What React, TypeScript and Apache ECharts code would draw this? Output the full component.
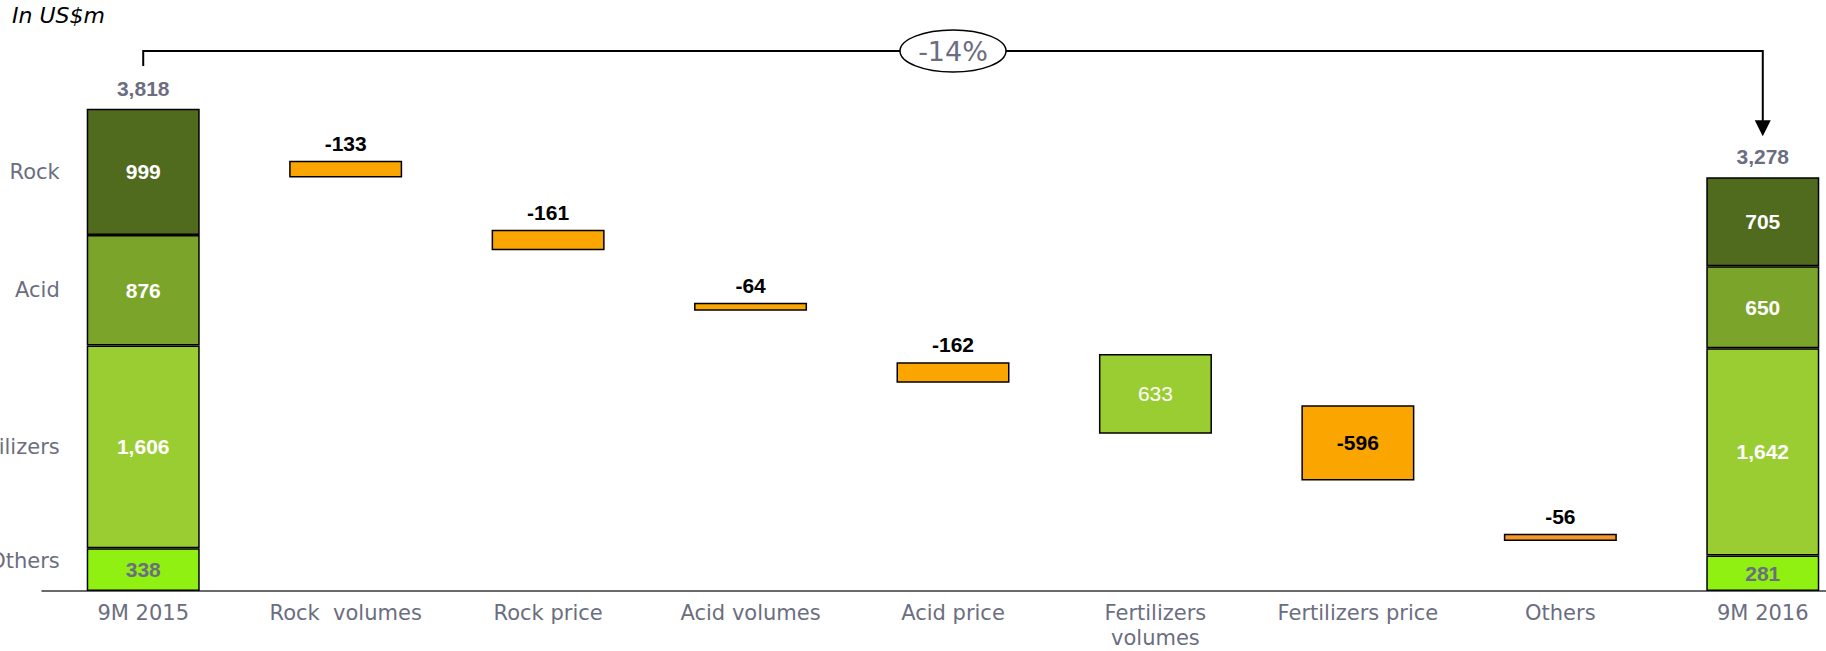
import React, { useEffect, useRef } from "react";
import * as echarts from "echarts";

// Revenue bridge 9M 2015 -> 9M 2016, in US$m
const categories = [
  "9M 2015",
  "Rock  volumes",
  "Rock price",
  "Acid volumes",
  "Acid price",
  "Fertilizers\nvolumes",
  "Fertilizers price",
  "Others",
  "9M 2016",
];

// Segment breakdown of the two period totals (first and last column)
const segmentNames = ["Others", "Fertilizers", "Acid", "Rock"];
const rockValues = [999, "-", "-", "-", "-", "-", "-", "-", 705];
const acidValues = [876, "-", "-", "-", "-", "-", "-", "-", 650];
const fertilizerValues = [1606, "-", "-", "-", "-", "-", "-", "-", 1642];
const otherValues = [338, "-", "-", "-", "-", "-", "-", "-", 281];
const totalValues = [3818, "-", "-", "-", "-", "-", "-", "-", 3278];

// Bridge steps and the level each floating bar starts from
const changeValues = [null, -133, -161, -64, -162, 633, -596, -56, null];
const changeBases = [null, 3275, 2700, 2220, 1650, 1245, 875, 397, null];

const segmentColors: Record<string, string> = {
  Rock: "#506A1E",
  Acid: "#7BA42A",
  Fertilizers: "#9ACD32",
  Others: "#8FF012",
};

const GREY = "#6B6E80";
const NUM_FONT = "Liberation Sans";
const TXT_FONT = "DejaVu Sans";
const BAR_WIDTH = 113;
const NUM_SIZE = 21;

const fmt = (v: number) => v.toLocaleString("en-US");

export default function App() {
  const ref = useRef<HTMLDivElement>(null);

  useEffect(() => {
    document.body.style.margin = "0";
    document.body.style.overflow = "hidden";
    const chart = echarts.init(ref.current!, null, { renderer: "svg" });

    const segmentData: Record<string, any[]> = {
      Rock: rockValues,
      Acid: acidValues,
      Fertilizers: fertilizerValues,
      Others: otherValues,
    };

    const common = {
      type: "bar",
      barWidth: BAR_WIDTH,
      barGap: "-100%",
    };

    // Stacked period totals
    const segmentSeries = segmentNames.map((name) => ({
      ...common,
      name,
      stack: "total",
      data: segmentData[name],
      itemStyle: { color: segmentColors[name], borderColor: "#000", borderWidth: 1.5 },
      label: {
        show: true,
        position: "inside",
        formatter: (p: any) => fmt(p.value),
        color: name === "Others" ? GREY : "#fff",
        fontFamily: NUM_FONT,
        fontWeight: "bold",
        fontSize: NUM_SIZE,
      },
    }));

    // Segment names to the left of the first column
    const nameSeries = segmentNames.map((name) => ({
      ...common,
      name,
      stack: "names",
      silent: true,
      data: segmentData[name].map((v, i) => (i === 0 ? v : "-")),
      itemStyle: { color: "transparent", borderWidth: 0 },
      label: {
        show: true,
        position: "left",
        distance: 27,
        formatter: "{a}",
        color: GREY,
        fontFamily: TXT_FONT,
        fontSize: 21,
        offset: name === "Others" ? [0, -9] : [0, 0],
      },
    }));

    // Total value above each period column
    const totalSeries = {
      ...common,
      name: "Total",
      stack: "sum",
      silent: true,
      data: totalValues,
      itemStyle: { color: "transparent", borderWidth: 0 },
      label: {
        show: true,
        position: "top",
        distance: 10,
        formatter: (p: any) => fmt(p.value),
        color: GREY,
        fontFamily: NUM_FONT,
        fontWeight: "bold",
        fontSize: NUM_SIZE,
      },
    };

    // Floating bars of the bridge
    const baseSeries = {
      ...common,
      name: "Base",
      stack: "bridge",
      silent: true,
      data: changeBases.map((v) => (v == null ? "-" : v)),
      itemStyle: { color: "transparent", borderWidth: 0 },
    };

    const changeSeries = {
      ...common,
      name: "Change",
      stack: "bridge",
      data: changeValues.map((v, i) => {
        if (v == null) return "-";
        const positive = v > 0;
        const big = Math.abs(v) > 400;
        const isOthers = categories[i] === "Others";
        return {
          value: Math.abs(v),
          itemStyle: {
            color: positive ? segmentColors.Fertilizers : isOthers ? "#F7962A" : "#FBA500",
            borderColor: "#000",
            borderWidth: 1.5,
          },
          label: {
            show: true,
            position: big ? "inside" : "top",
            distance: 7,
            color: positive ? "#fff" : "#000",
            fontWeight: positive ? "normal" : "bold",
            fontSize: NUM_SIZE,
            fontFamily: NUM_FONT,
            formatter: () => fmt(v),
          },
        };
      }),
    };

    const option: any = {
      animation: false,
      backgroundColor: "#fff",
      grid: {
        left: 42,
        width: 1822,
        top: 86,
        bottom: 60,
        outerBoundsMode: "none",
        containLabel: false,
      },
      xAxis: {
        type: "category",
        data: categories,
        axisTick: { show: false },
        axisLine: { lineStyle: { color: "#3A3A3A", width: 1.5 } },
        axisLabel: {
          color: GREY,
          fontFamily: TXT_FONT,
          fontSize: 21,
          lineHeight: 25,
          margin: 9,
          interval: 0,
        },
      },
      yAxis: {
        type: "value",
        min: 0,
        max: 4000,
        show: false,
        splitLine: { show: false },
      },
      series: [...segmentSeries, ...nameSeries, totalSeries, baseSeries, changeSeries],
    };

    chart.setOption(option);

    // Overall change bracket from the first to the last column
    const xL = chart.convertToPixel({ xAxisIndex: 0 }, categories[0]) as number;
    const xR = chart.convertToPixel({ xAxisIndex: 0 }, categories[8]) as number;
    const topL = chart.convertToPixel({ yAxisIndex: 0 }, totalValues[0] as number) as number;
    const topR = chart.convertToPixel({ yAxisIndex: 0 }, totalValues[8] as number) as number;
    const yBracket = 51;
    const yStubL = topL - 43;
    const yTip = topR - 41;
    const xMid = (xL + xR) / 2;
    const pctChange = Math.round(((totalValues[8] as number) / (totalValues[0] as number) - 1) * 100);

    chart.setOption({
      graphic: [
        {
          type: "text",
          left: 12,
          top: 4,
          style: {
            text: "In US$m",
            font: `italic 22px "${TXT_FONT}"`,
            fill: "#000",
          },
        },
        {
          type: "polyline",
          shape: {
            points: [
              [xL, yStubL],
              [xL, yBracket],
              [xR, yBracket],
              [xR, yTip - 14],
            ],
          },
          style: { stroke: "#000", lineWidth: 2, fill: "none" },
        },
        {
          type: "polygon",
          shape: {
            points: [
              [xR - 8, yTip - 16],
              [xR + 8, yTip - 16],
              [xR, yTip],
            ],
          },
          style: { fill: "#000" },
        },
        {
          type: "ellipse",
          shape: { cx: xMid, cy: yBracket, rx: 53, ry: 21 },
          style: { fill: "#fff", stroke: "#000", lineWidth: 1.5 },
          z: 10,
        },
        {
          type: "text",
          x: xMid,
          y: yBracket,
          z: 11,
          style: {
            text: `${pctChange}%`,
            font: `27px "${TXT_FONT}"`,
            fill: GREY,
            align: "center",
            verticalAlign: "middle",
          },
        },
      ],
    });

    return () => chart.dispose();
  }, []);

  return <div ref={ref} style={{ width: 1826, height: 651 }} />;
}
